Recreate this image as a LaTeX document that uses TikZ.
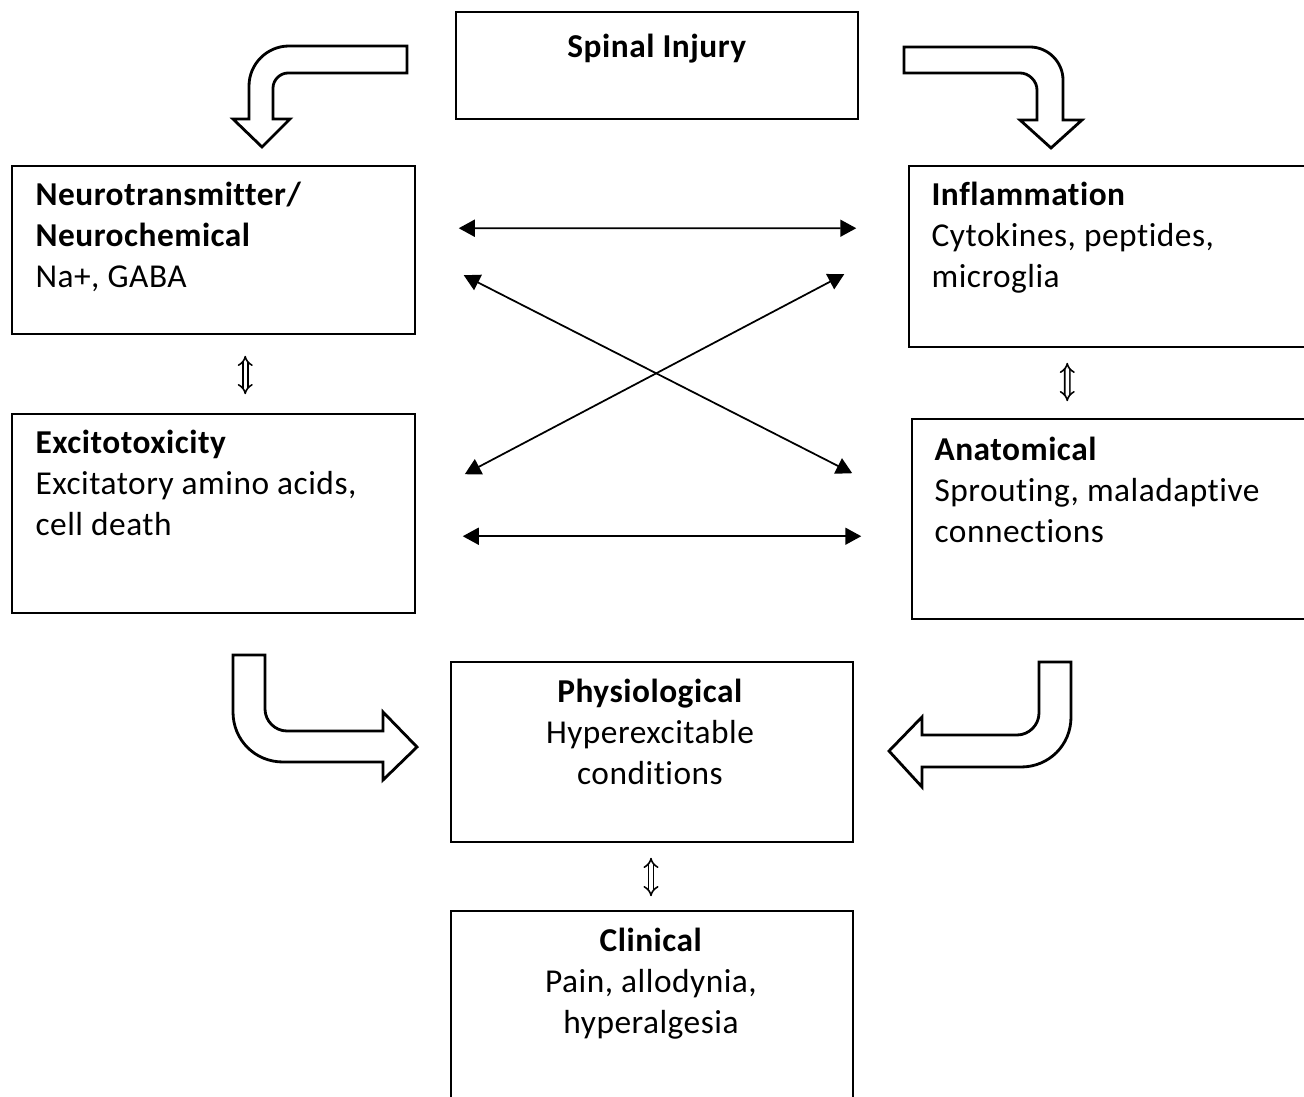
\documentclass[tikz,border=0pt]{standalone}
\usepackage{fontspec}
\setmainfont{Carlito}[Ligatures=NoCommon, LetterSpace=1.5]
\usetikzlibrary{arrows.meta, positioning, calc}

\tikzset{
    box/.style={draw, line width=0.9pt, inner sep=0pt},
    boxtext/.style={inner sep=0pt, align=left, anchor=north west, font=\fontsize{19}{23.3}\selectfont},
    midtext/.style={inner sep=0pt, align=center, anchor=north, font=\fontsize{19}{23.3}\selectfont},
    link/.style={line width=1pt, {Triangle[length=0.32cm, width=0.34cm]}-{Triangle[length=0.32cm, width=0.34cm]}},
    updown/.style={double, double distance=0.07cm, line width=0.9pt, {Implies}-{Implies}},
    blockarrow/.style={draw, line width=1.6pt, fill=white, line join=miter}
}

\begin{document}
\begin{tikzpicture}[x=0.02cm, y=-0.02cm]
                    \useasboundingbox (0,0) rectangle (1304,1097);

                    % boxes
                    \node [box, minimum width=8.04cm, minimum height=2.14cm] (spinal) at (657, 65.5) {};
                    \node [box, minimum width=8.06cm, minimum height=3.36cm] (neuro) at (213.5, 250) {};
                    \node [box, minimum width=8.02cm, minimum height=3.62cm] (inflam) at (1109.5, 256.5) {};
                    \node [box, minimum width=8.06cm, minimum height=3.98cm] (excito) at (213.5, 513.5) {};
                    \node [box, minimum width=7.96cm, minimum height=4.00cm] (anat) at (1111, 519) {};
                    \node [box, minimum width=8.04cm, minimum height=3.60cm] (physio) at (652, 752) {};
                    \node [box, minimum width=8.04cm, minimum height=3.98cm] (clin) at (652, 1010.5) {};

                    % texts
                    \node [midtext] (spinaltext) at ($(spinal.north) + (0, 17)$) {\strut\textbf{Spinal Injury}};
                    \node [boxtext] (neurotext) at ($(neuro.north west) + (24, 11)$) {\strut\textbf{Neurotransmitter/}\\\textbf{Neurochemical}\\Na+, GABA};
                    \node [boxtext] (inflamtext) at ($(inflam.north west) + (23, 11)$) {\strut\textbf{Inflammation}\\Cytokines, peptides,\\microglia};
                    \node [boxtext] (excitotext) at ($(excito.north west) + (24, 11)$) {\strut\textbf{Excitotoxicity}\\Excitatory amino acids,\\cell death};
                    \node [boxtext] (anattext) at ($(anat.north west) + (23, 13)$) {\strut\textbf{Anatomical}\\Sprouting, maladaptive\\connections};
                    \node [midtext] (physiotext) at ($(physio.north) + (-2, 12)$) {\strut\textbf{Physiological}\\Hyperexcitable\\conditions};
                    \node [midtext] (clintext) at ($(clin.north) + (-1, 12)$) {\strut\textbf{Clinical}\\Pain, allodynia,\\hyperalgesia};

                    % links between the middle boxes
                    \draw [link] ($(neuro.north east) + (43, 63)$) -- ($(inflam.north west) + (-52, 63)$);
                    \draw [link] ($(excito.north east) + (47, 123)$) -- ($(anat.north west) + (-50, 118)$);
                    \draw [link] ($(neuro.north east) + (48, 110)$) -- ($(anat.north west) + (-59, 55)$);
                    \draw [link] ($(inflam.north west) + (-64, 109)$) -- ($(excito.north east) + (49, 61)$);

                    \draw [updown] ($(neuro.south west) + (234, 21)$) -- ($(excito.north west) + (234, -19)$);
                    \draw [updown] ($(inflam.south west) + (159, 15)$) -- ($(anat.north west) + (156, -17)$);
                    \draw [updown] ($(physio.south) + (-1, 15)$) -- ($(clin.north) + (-1, -14)$);

                    % bent block arrows
                    \draw [blockarrow] (407,46) -- (289,46) .. controls (267,46) and (249,64) .. (249,86) -- (249,119) -- (233,119) -- (262,147) -- (290,119) -- (273,119) -- (273,88) .. controls (273,80) and (280,73) .. (288,73) -- (407,73) -- cycle;
                    \draw [blockarrow] (904,47) -- (1030,47) .. controls (1048,47) and (1063,62) .. (1063,80) -- (1063,120) -- (1082,120) -- (1051,148) -- (1020,120) -- (1037,120) -- (1037,90) .. controls (1037,81) and (1029,73) .. (1020,73) -- (904,73) -- cycle;
                    \draw [blockarrow] (233,655) -- (265,655) -- (265,709) .. controls (265,721) and (275,731) .. (287,731) -- (383,731) -- (383,712) -- (417,747) -- (383,780) -- (383,762) -- (283,762) .. controls (255,762) and (233,740) .. (233,712) -- cycle;
                    \draw [blockarrow] (1071,662) -- (1039,662) -- (1039,713) .. controls (1039,725) and (1029,735) .. (1017,735) -- (922,735) -- (922,717) -- (889,751) -- (922,787) -- (922,767) -- (1021,767) .. controls (1049,767) and (1071,745) .. (1071,717) -- cycle;
                \end{tikzpicture}
\end{document}
